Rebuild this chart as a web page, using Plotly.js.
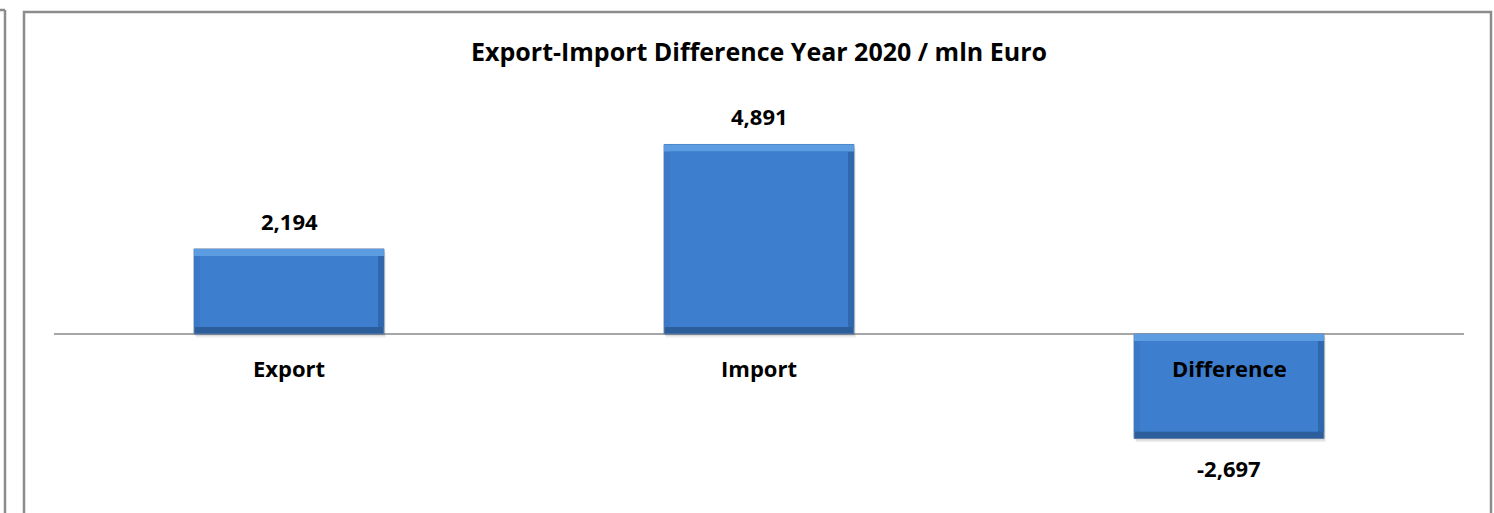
<!DOCTYPE html>
<html>
<head>
<meta charset="utf-8">
<script src="https://cdn.plot.ly/plotly-3.0.1.min.js"></script>
<style>html,body{margin:0;padding:0;background:#fff;}#chart{width:1494px;height:513px;}</style>
</head>
<body>
<div id="chart"></div>
<script>
var categories = ["Export", "Import", "Difference"];
var values = [2194, 4891, -2697];
var valueLabels = ["2,194", "4,891", "-2,697"];
var chartTitle = "Export-Import Difference Year 2020 / mln Euro";

var FONT = "'Open Sans', Lato, sans-serif";
var L = 54, R = 30, T = 100, B = 0, W = 1494, H = 513;
var pw = W - L - R, ph = H - T - B;
var PX_PER_UNIT = 0.03875;
function px(x){ return (x - L) / pw; }
function py(y){ return (H - B - y) / ph; }

var BW = 0.404;                 // bar width (category units)
var bxv = 6 / (pw / 3);         // bevel thickness, x (category units)
var byv = 7 / PX_PER_UNIT;      // bevel thickness, y (data units)

var tops = values.map(function(v){ return Math.max(0, v); });
var bots = values.map(function(v){ return Math.min(0, v); });
var heights = values.map(function(v){ return Math.abs(v); });

function layer(base, height, offset, width, color, line){
  return {
    type: "bar", x: categories, y: height, base: base,
    offset: offset, width: width,
    marker: {color: color, line: line || {width: 0}},
    hoverinfo: "skip"
  };
}

var traces = [
  // soft shadow
  layer(bots.map(function(b){ return b - 90; }), heights, -BW/2 + 0.004, BW, "rgba(0,0,0,0.07)"),
  layer(bots.map(function(b){ return b - 50; }), heights, -BW/2 + 0.002, BW, "rgba(0,0,0,0.08)"),
  // bottom bevel (whole bar)
  layer(bots, heights, -BW/2, BW, "#2d5e9c", {color: "#5f7fa6", width: 1}),
  // right bevel
  layer(bots.map(function(b){ return b + byv; }), heights.map(function(h){ return h - byv; }), -BW/2, BW, "#3068ae"),
  // left bevel
  layer(bots.map(function(b){ return b + byv; }), heights.map(function(h){ return h - byv; }), -BW/2, BW - bxv, "#3b79c6"),
  // top bevel
  layer(tops.map(function(t){ return t - byv; }), heights.map(function(){ return byv; }), -BW/2, BW, "#5c9ce0"),
  // face
  layer(bots.map(function(b){ return b + byv; }), heights.map(function(h){ return h - 2*byv; }), -BW/2 + bxv, BW - 2*bxv, "#3d7ece")
];

var annotations = [];
categories.forEach(function(c, i){
  var v = values[i];
  annotations.push({
    x: c, y: v, xref: "x", yref: "y", text: valueLabels[i], showarrow: false,
    font: {family: FONT, size: 22, color: "#000", weight: "bold"},
    yanchor: v >= 0 ? "bottom" : "top", yshift: v >= 0 ? 11 : -12
  });
  annotations.push({
    x: c, y: 0, xref: "x", yref: "y", text: c, showarrow: false,
    font: {family: FONT, size: 22, color: "#000", weight: "bold"},
    yanchor: "middle", yshift: -34
  });
});

var frame = "#8c8c8c";
var shapes = [
  {type: "rect", xref: "paper", yref: "paper", x0: px(24), x1: px(1491), y0: py(12), y1: py(560),
   line: {color: frame, width: 2.5}, fillcolor: "rgba(0,0,0,0)", layer: "below"},
  {type: "line", xref: "paper", yref: "paper", x0: px(5), x1: px(5), y0: py(10), y1: py(560),
   line: {color: frame, width: 2.5}},
  {type: "line", xref: "paper", yref: "paper", x0: px(-5), x1: px(5), y0: py(10), y1: py(10),
   line: {color: frame, width: 2.5}}
];

var layout = {
  width: W, height: H,
  margin: {l: L, r: R, t: T, b: B, pad: 0},
  paper_bgcolor: "#fff", plot_bgcolor: "rgba(0,0,0,0)",
  showlegend: false,
  barmode: "overlay",
  title: {text: chartTitle, x: 0.5, xref: "paper", xanchor: "center", y: 1 - 52/H, yref: "container", yanchor: "middle",
          font: {family: FONT, size: 25, color: "#000", weight: "bold"}},
  xaxis: {type: "category", range: [-0.5, 2.5], showgrid: false, showticklabels: false, ticks: "", showline: false, zeroline: false, fixedrange: true},
  yaxis: {range: [(H - B - 334) / -PX_PER_UNIT, (334 - T) / PX_PER_UNIT], showgrid: false, showticklabels: false, ticks: "",
          zeroline: true, zerolinecolor: "#a6a6a6", zerolinewidth: 1.5, showline: false, fixedrange: true},
  annotations: annotations,
  shapes: shapes
};

Plotly.newPlot("chart", traces, layout, {displayModeBar: false, staticPlot: true});
</script>
</body>
</html>
